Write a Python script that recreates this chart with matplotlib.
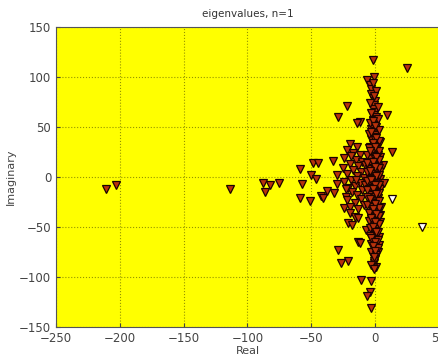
import matplotlib
matplotlib.use("Agg")
import matplotlib.pyplot as plt

# far-left / scattered eigenvalues
far_re = [-211, -203, -114, -88, -82, -86, -75, -59, -57, -59, -51, -49, -45, -50, -46,
          -33, -30, -30, -32, -38, -42, -41, -22, -29, -12, -14, -29, -27, -21, -13, -12,
          -11, -3, -4, -6, -3, -2, 25, 9, 4, 13]
far_im = [-12, -8, -12, -6, -8, -15, -6, 8, -7, -21, -24, 14, 14, 2, -2,
          16, 2, -7, -16, -14, -19, -21, 71, 60, 55, 54, -73, -86, -84, -65, -66,
          -103, -104, -115, -119, -131, 117, 109, 62, 35, 25]

# band between -25 and -8
band_re = [-20, -14, -22, -17, -12, -24, -15, -10, -20, -13, -25, -17, -11, -22, -14, -9,
           -19, -24, -12, -16, -21, -10, -18, -14, -23, -11, -22, -16, -24, -20, -13, -20,
           -16, -13, -21, -18, -7, -9, -8, -8, -19, -15, -23]
band_im = [33, 30, 27, 24, 22, 19, 17, 15, 13, 11, 9, 7, 5, 3, 1, -1,
           -3, -5, -6, -9, -11, -13, -15, -18, -20, -22, -23, -26, -31, -30, -32, -36,
           -40, -41, -46, -48, -53, -28, -8, 12, 21, -3, -12]

# dense column near the imaginary axis
col_re = [-6, -4, -3, -3, -2, 0, -1, -2, 0, -1, 1, -2, 0, -1, 1, -3, 0, -2, 1, -1, -3, 0, 2,
          -2, 0, -4, 1, -1, -3, 0, 2, -2, -4, 0, 1, -1, -3, 0, 2, -2, -5, 0, 1, -1, -3, 0,
          2, -2, -4, 0, 1, -1, -3, 0, 2, -2, -5, 0, 1, -1, -3, 0, 2, -2, -4, 0, 1, -1, -3,
          0, 2, -2, 0, -1, 1, -3, 0, -2, 1, -1, 0, -2, 1, -1, 0, -2, 1, -1, 0, -2, 0, -1,
          -2, 0, -1, -2,
          -1, -2, 1, -1, -4, 2, -3, 2, -4, 3, -5, 3, -5, 3, -6, 3, -6, 3, -6, 3, -6, 3,
          -6, 3, -6, 3, -6, 3, -5, 3, -5, 3, -4, 2, -4, 2, -3, 2, -3, 1, -1, -3, -1,
          -2, 0, -3, 1, -2, 0, -4, 1, -2, 0, -4, 1, -3, 0, -2, 1, -4, 0, -2, 1, -3, 0,
          -2, 1, -3, 0, -2, 0, -1]
col_im = [97, 92, 88, 83, 79, 76, 72, 68, 65, 62, 60, 57, 55, 52, 50, 48, 46, 44, 42, 40, 38,
          37, 35, 33, 31, 30, 28, 27, 25, 24, 22, 21, 19, 18, 16, 15, 13, 12, 11, 9, 8, 7,
          5, 4, 3, 1, 0, -1, -2, -3, -5, -6, -7, -9, -10, -11, -12, -14, -15, -17, -18,
          -20, -21, -23, -24, -26, -27, -29, -30, -32, -33, -35, -37, -39, -40, -42, -44,
          -46, -48, -50, -52, -54, -56, -58, -60, -62, -64, -66, -68, -70, -73, -76, -79,
          -82, -86, -90,
          100, 94, 86, 81, 74, 70, 64, 58, 54, 47, 43, 36, 29, 26, 22, 17, 14, 9, 5, 2,
          -4, -8, -13, -16, -20, -24, -28, -31, -36, -39, -44, -47, -51, -55, -59, -63,
          -67, -71, -75, -78, -84, -88, -92,
          56, 51, 45, 39, 34, 30, 26, 20, 15, 10, 6, 1, -3, -8, -12, -17, -22, -27, -32,
          -37, -41, -45, -50, -55, -61, -65, -69, -74, -80]

# right edge of the column
edge_re = [4, 5, 4, 4, 5, 4, 4, 3, 3, 2, 1, 6, 7]
edge_im = [20, 8, -2, -12, -30, -45, -38, -60, -68, -75, -90, 12, -6]

# unstable (white) eigenvalues
white_re = [13, 37]
white_im = [-22, -50]

fig = plt.figure(figsize=(4.38, 3.59), dpi=100)
ax = fig.add_axes([0.128, 0.089, 0.874, 0.836])
ax.set_facecolor("#FFFF00")

red = dict(marker="v", linestyle="none", markersize=5.2, markerfacecolor="#B8320C",
           markeredgecolor="#1A0300", markeredgewidth=0.9)
ax.plot(far_re, far_im, **red)
ax.plot(band_re, band_im, **red)
ax.plot(edge_re, edge_im, **red)
ax.plot(col_re, col_im, **red)
ax.plot(white_re, white_im, marker="v", linestyle="none", markersize=5.2,
        markerfacecolor="white", markeredgecolor="#1A0300", markeredgewidth=0.9)

ax.set_xlim(-250, 50)
ax.set_ylim(-150, 150)
ax.set_xticks([-250, -200, -150, -100, -50, 0, 50])
ax.set_yticks([-150, -100, -50, 0, 50, 100, 150])
ax.grid(True, linestyle=":", color="#666600", linewidth=0.8, alpha=0.7)
ax.tick_params(direction="in", labelsize=8.5, labelcolor="#444444", color="#444444",
               length=3)
for s in ax.spines.values():
    s.set_color("#555555")

ax.set_title("eigenvalues, n=1", fontsize=7.5, color="#333333", pad=7)
ax.set_xlabel("Real", fontsize=8, color="#444444", labelpad=1)
ax.set_ylabel("Imaginary", fontsize=8, color="#444444", labelpad=2)

fig.savefig("out.png", dpi=100)
